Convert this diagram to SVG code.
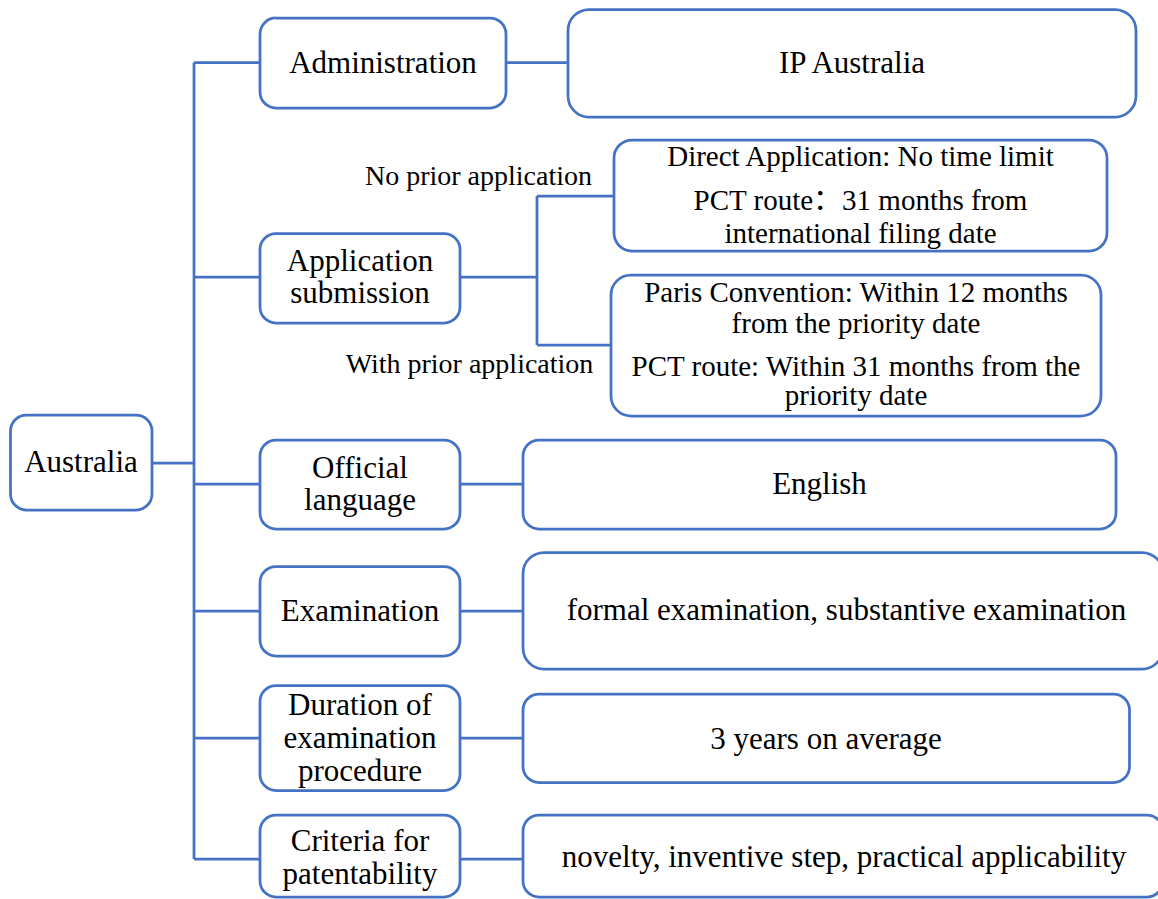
<svg xmlns="http://www.w3.org/2000/svg" width="1158" height="899" viewBox="0 0 1158 899">
<style>
rect.n{fill:#fff;stroke:#4472C4;stroke-width:2.75}
.c{fill:none;stroke:#4472C4;stroke-width:2.75}
text{font-family:'Liberation Serif',serif;fill:#000;text-anchor:middle}
.cjk{font-family:'Liberation Serif','Noto Sans CJK SC',serif}
.m{font-size:31px}
.s{font-size:29px}
.l{font-size:28px}
</style>
<rect width="1158" height="899" fill="#fff"/>
<g id="connectors">
<path class="c" d="M152,463 H194 M194,62.5 V859 M194,62.5 H260 M506,62.5 H568 M194,277 H260 M460,277 H537 M537,196 V345 M537,196 H614 M537,345 H611 M194,484 H260 M460,484 H523 M194,611 H260 M460,611 H523 M194,738 H260 M460,738 H523 M194,859 H260 M460,859 H523"/>
</g>
<g id="australia"><rect class="n" x="10.5" y="415" width="141.5" height="95" rx="16"/><text class="m" x="81" y="472">Australia</text></g>
<g id="administration"><rect class="n" x="260" y="18" width="246" height="90" rx="16"/><text class="m" x="383" y="73">Administration</text></g>
<g id="ip-australia"><rect class="n" x="568" y="9.5" width="568" height="107.5" rx="21"/><text class="m" x="852" y="73">IP Australia</text></g>
<g id="application-submission"><rect class="n" x="260" y="233.5" width="200" height="89.5" rx="16"/><text class="m" x="360" y="271">Application</text><text class="m" x="360" y="303">submission</text></g>
<g id="label-no-prior"><text class="l" x="478.5" y="185">No prior application</text></g>
<g id="label-with-prior"><text class="l" x="469.5" y="373">With prior application</text></g>
<g id="direct-application"><rect class="n" x="614" y="140" width="493" height="111" rx="18"/><text class="s" x="860.5" y="166">Direct Application: No time limit</text><text class="s cjk" x="860.5" y="210">PCT route：31 months from</text><text class="s" x="860.5" y="242.5">international filing date</text></g>
<g id="paris-convention"><rect class="n" x="611" y="275" width="490" height="141" rx="20"/><text class="s" x="856" y="302">Paris Convention: Within 12 months</text><text class="s" x="856" y="333">from the priority date</text><text class="s" x="856" y="376">PCT route: Within 31 months from the</text><text class="s" x="856" y="405">priority date</text></g>
<g id="official-language"><rect class="n" x="260" y="440" width="200" height="89" rx="16"/><text class="m" x="360" y="478">Official</text><text class="m" x="360" y="510">language</text></g>
<g id="english"><rect class="n" x="523" y="440" width="593" height="89" rx="16"/><text class="m" x="819.5" y="493.5">English</text></g>
<g id="examination"><rect class="n" x="260" y="566.5" width="200" height="89.5" rx="16"/><text class="m" x="360" y="621">Examination</text></g>
<g id="formal-examination"><rect class="n" x="523" y="552.5" width="640" height="116.5" rx="21"/><text class="m" x="846.5" y="620">formal examination, substantive examination</text></g>
<g id="duration"><rect class="n" x="260" y="685.5" width="200" height="105" rx="16"/><text class="m" x="360" y="715">Duration of</text><text class="m" x="360" y="748">examination</text><text class="m" x="360" y="780.5">procedure</text></g>
<g id="three-years"><rect class="n" x="523" y="694" width="606.5" height="88.5" rx="16"/><text class="m" x="826" y="748.5">3 years on average</text></g>
<g id="criteria"><rect class="n" x="260" y="815" width="200" height="82" rx="16"/><text class="m" x="360" y="850.5">Criteria for</text><text class="m" x="360" y="884">patentability</text></g>
<g id="novelty"><rect class="n" x="523" y="815" width="640" height="82" rx="16"/><text class="m" x="844" y="867">novelty, inventive step, practical applicability</text></g>
</svg>
